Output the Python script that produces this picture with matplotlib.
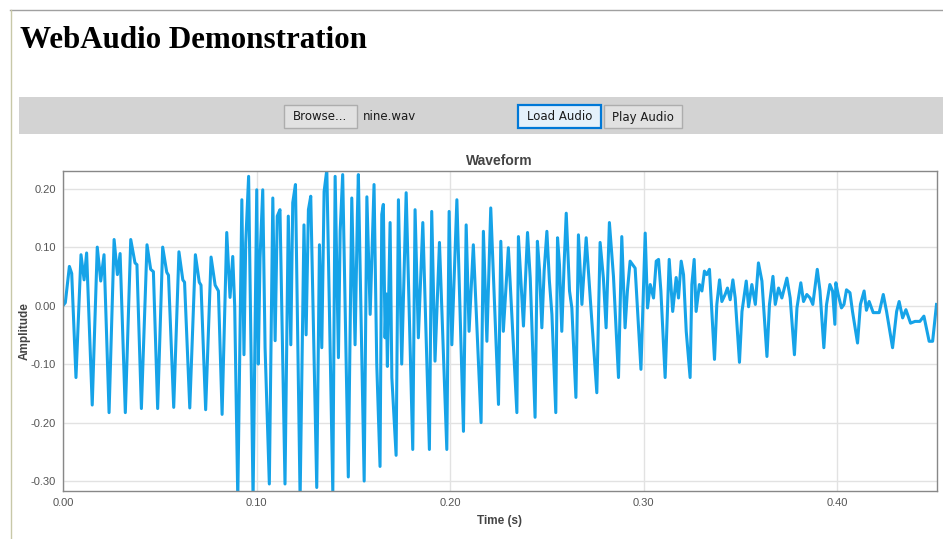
import numpy as np
import matplotlib
matplotlib.use('Agg')
from matplotlib import pyplot as plt
from matplotlib.patches import Rectangle

# waveform (peaks, troughs and shoulders)
time_ms = [
    0.0, 1.2, 3.3, 4.5, 6.7,
    9.3, 10.9, 12.2, 15.1,
    17.7, 19.5, 21.2, 23.8,
    26.4, 28.1, 29.5, 32.2,
    35.0, 37.2, 38.2, 40.5,
    43.4, 45.3, 46.7, 48.9,
    51.5, 53.6, 54.5, 57.2,
    59.9, 61.9, 62.8, 65.5,
    68.4, 70.4, 71.3, 73.7,
    76.5, 78.6, 80.3, 82.2,
    84.6, 86.3, 87.7, 88.7, 90.3,
    92.4, 93.5, 94.4, 95.9, 98.2,
    100.1, 100.9, 101.8, 103.2, 104.4, 106.6,
    108.4, 109.6, 110.7, 112.1, 114.7,
    116.4, 117.7, 118.7, 120.1, 122.5,
    124.5, 125.6, 126.8, 128.0, 131.1,
    132.5, 133.7, 134.9, 136.3, 139.4,
    140.6, 142.3, 143.2, 144.5, 147.4,
    149.2, 150.9, 152.1, 152.6, 155.6,
    157.0, 158.7, 160.7, 162.1, 163.8,
    164.7, 165.5, 166.4, 167.0, 167.6, 169.0, 169.9, 172.1,
    173.3, 175.0, 177.3, 180.7,
    181.9, 183.6, 185.9, 189.3,
    190.5, 192.2, 194.5, 198.3,
    199.5, 200.9, 203.5, 206.9,
    208.3, 209.8, 212.0, 216.0,
    217.2, 219.0, 221.0, 225.0,
    226.2, 227.5, 230.1, 234.5,
    235.3, 237.9, 240.0, 241.4, 243.9,
    245.1, 246.2, 247.4, 248.6, 250.0, 251.3, 252.6, 254.6,
    255.5, 256.5, 257.7, 258.9, 260.0, 261.7, 262.9, 265.0,
    266.3, 268.1, 270.3, 272.4, 275.8,
    277.5, 279.2, 280.6, 282.3, 284.4, 287.0,
    288.7, 290.4, 291.6, 293.0, 295.6, 298.6,
    300.8, 302.0, 303.4, 305.1, 306.5, 307.7, 308.9, 311.1,
    313.2, 315.0, 316.8, 318.0, 319.4, 320.6, 322.0, 324.0,
    324.9, 326.1, 327.1, 328.8, 330.1, 331.4, 332.6, 334.0, 335.2, 336.6,
    337.8, 339.2, 340.4, 342.1, 343.3, 344.7, 346.1, 347.3, 349.5,
    350.8, 353.0, 354.2, 355.9, 357.7, 359.3, 361.1, 363.7,
    365.0, 366.8, 368.0, 369.7, 371.4, 374.0, 375.7, 377.9,
    379.2, 381.2, 382.6, 384.3, 386.0, 387.4, 389.7, 391.1, 393.1,
    394.5, 396.2, 397.6, 398.8, 399.3, 400.5, 402.2, 403.5, 404.8, 406.6, 407.9, 410.5,
    412.0, 413.9, 415.1, 416.5, 418.6, 421.7, 423.8, 425.5, 428.6,
    430.7, 432.0, 433.8, 435.5, 437.9, 440.2, 442.7, 444.8, 447.5, 449.3, 451.3,
]

amplitude = [
    0.000, 0.005, 0.067, 0.055, -0.123,
    0.087, 0.044, 0.090, -0.170,
    0.100, 0.042, 0.087, -0.183,
    0.113, 0.053, 0.089, -0.183,
    0.113, 0.073, 0.070, -0.176,
    0.104, 0.062, 0.058, -0.176,
    0.100, 0.057, 0.052, -0.174,
    0.092, 0.044, 0.040, -0.175,
    0.087, 0.040, 0.035, -0.178,
    0.083, 0.035, 0.025, -0.186,
    0.125, 0.014, 0.084, 0.000, -0.330,
    0.181, -0.084, 0.107, 0.221, -0.330,
    0.198, -0.100, 0.081, 0.198, -0.072, -0.305,
    0.184, -0.060, 0.153, 0.164, -0.305,
    0.153, -0.067, 0.176, 0.207, -0.330,
    0.138, -0.050, 0.164, 0.187, -0.311,
    0.104, -0.072, 0.195, 0.232, -0.320,
    0.221, -0.089, 0.127, 0.224, -0.293,
    0.184, -0.067, 0.156, 0.224, -0.300,
    0.186, -0.015, 0.207, -0.100, -0.275,
    0.156, 0.173, -0.055, 0.020, -0.104, 0.142, -0.123, -0.256,
    0.181, -0.100, 0.193, -0.246,
    0.164, -0.055, 0.142, -0.246,
    0.161, -0.095, 0.108, -0.246,
    0.161, -0.067, 0.181, -0.215,
    0.138, -0.044, 0.104, -0.200,
    0.127, -0.061, 0.167, -0.169,
    0.110, -0.044, 0.099, -0.183,
    0.118, -0.035, 0.125, 0.047, -0.191,
    0.110, 0.060, -0.038, 0.060, 0.127, 0.042, -0.015, -0.183,
    0.116, 0.070, -0.044, 0.070, 0.158, 0.025, -0.004, -0.157,
    0.121, 0.002, 0.116, 0.013, -0.149,
    0.108, 0.047, -0.038, 0.142, 0.050, -0.123,
    0.118, -0.038, 0.025, 0.076, 0.064, -0.109,
    0.124, -0.004, 0.036, 0.013, 0.076, 0.079, 0.025, -0.123,
    0.079, -0.010, 0.048, 0.013, 0.076, 0.053, -0.044, -0.123,
    0.036, 0.079, -0.010, 0.036, 0.025, 0.059, 0.053, 0.062, -0.010, -0.092,
    0.002, 0.044, 0.007, 0.019, 0.030, 0.010, 0.044, 0.013, -0.097,
    -0.010, 0.042, -0.002, 0.036, 0.002, 0.073, 0.042, -0.087,
    0.002, 0.050, 0.002, 0.030, 0.013, 0.047, 0.013, -0.084,
    -0.004, 0.039, 0.007, 0.019, 0.013, 0.002, 0.062, 0.025, -0.072,
    0.002, 0.036, 0.025, -0.032, 0.039, 0.019, -0.004, 0.002, 0.027, 0.022, -0.010, -0.064,
    0.002, 0.025, -0.008, 0.007, -0.012, -0.012, 0.019, -0.010, -0.072,
    -0.010, 0.007, -0.021, -0.007, -0.030, -0.027, -0.027, -0.018, -0.061, -0.061, 0.002,
]

x_ticks = [0.0, 0.1, 0.2, 0.3, 0.4]
y_ticks = [-0.3, -0.2, -0.1, 0.0, 0.1, 0.2]

W, H = 943, 539
fig = plt.figure(figsize=(W / 100, H / 100), dpi=100)

# page in pixel coordinates
page = fig.add_axes([0, 0, 1, 1])
page.set_xlim(0, W)
page.set_ylim(H, 0)
page.axis('off')

page.plot([10, W], [10, 10], color='#a0a0a0', lw=1)
page.plot([11, 11], [10, H], color='#c8c8a8', lw=1)
page.text(20, 40, 'WebAudio Demonstration', fontsize=22.3, fontweight='bold',
          family='Liberation Serif', va='center', ha='left', color='black')

page.add_patch(Rectangle((19, 97), W - 19, 37, facecolor='#d3d3d3', edgecolor='none'))


def button(x0, x1, label, edge='#adadad', face='#e1e1e1', lw=1):
    page.add_patch(Rectangle((x0, 105), x1 - x0, 23, facecolor=face, edgecolor=edge, lw=lw))
    page.text((x0 + x1) / 2, 117, label, fontsize=8.5, family='DejaVu Sans',
              ha='center', va='center', color='#1a1a1a')


button(284, 357, 'Browse...')
page.text(363, 117, 'nine.wav', fontsize=8.5, family='DejaVu Sans',
          ha='left', va='center', color='#1a1a1a')
button(518, 601, 'Load Audio', edge='#0078d7', face='#e5f1fb', lw=1.6)
button(604, 682, 'Play Audio')

# chart
ax = fig.add_axes([63 / W, (H - 491) / H, (936.5 - 63) / W, (491 - 170.5) / H])
t = np.array(time_ms) / 1000.0
ax.plot(t, amplitude, color='#16a3e8', lw=2.2, solid_joinstyle='round')
ax.set_xlim(0, 0.4513)
ax.set_ylim(-0.317, 0.231)
ax.set_xticks(x_ticks)
ax.set_yticks(y_ticks)
ax.set_xticklabels(['%.2f' % v for v in x_ticks])
ax.set_yticklabels(['%.2f' % v for v in y_ticks])
ax.tick_params(length=0, labelsize=8, labelcolor='#555555', pad=5)
for lab in ax.get_xticklabels() + ax.get_yticklabels():
    lab.set_family('Liberation Sans')
ax.grid(True, color='#e2e2e2', lw=1)
ax.set_axisbelow(True)
for s in ax.spines.values():
    s.set_color('#888888')
    s.set_linewidth(1)

ax.set_title('Waveform', fontsize=10, fontweight='bold', color='#444444',
             family='Liberation Sans', pad=4)
ax.set_xlabel('Time (s)', fontsize=8.5, fontweight='bold', color='#444444',
              family='Liberation Sans', labelpad=5)
ax.set_ylabel('Amplitude', fontsize=8.5, fontweight='bold', color='#444444',
              family='Liberation Sans', labelpad=0)

plt.savefig('out.png', dpi=100)
